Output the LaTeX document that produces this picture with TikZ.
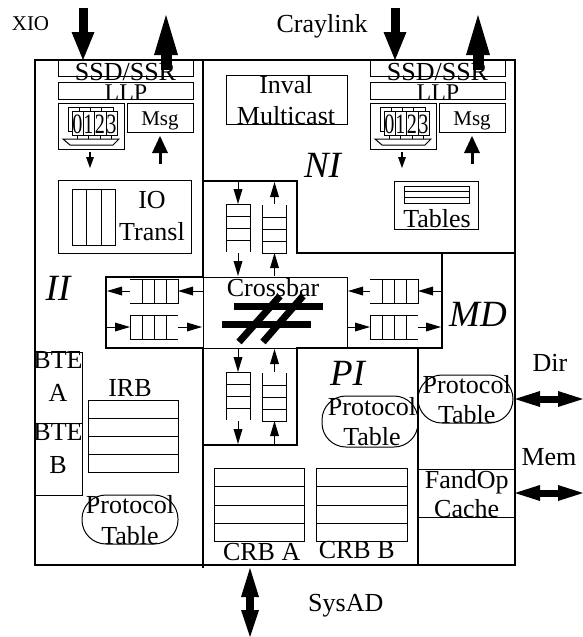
\documentclass[tikz,border=0pt]{standalone}
\usepackage{fontspec}
\setmainfont{Liberation Serif}
\usetikzlibrary{arrows.meta}
\begin{document}
\begin{tikzpicture}[x=1pt,y=-1pt,
  thk/.style={line width=2.2pt},
  thn/.style={line width=1pt},
  lbl/.style={anchor=base,inner sep=0pt,font=\fontsize{26}{31}\selectfont},
  mid/.style={anchor=base,inner sep=0pt,font=\fontsize{24}{28}\selectfont},
  sml/.style={anchor=base,inner sep=0pt,font=\fontsize{21}{24}\selectfont},
  ital/.style={anchor=base,inner sep=0pt,font=\fontsize{37}{40}\selectfont\itshape},
  digit/.style={anchor=base,inner sep=0pt,font=\fontsize{28}{28}\selectfont,xscale=0.72},
  qarr/.style={line width=1pt,-{Triangle[length=15pt,width=9pt,line width=0pt]}},
  tinyarr/.style={line width=1.5pt,-{Triangle[length=11pt,width=8pt,line width=0pt]}},
  msgarr/.style={line width=3pt,-{Triangle[length=17pt,width=16pt,line width=0pt]}},
  bigdown/.style={line width=9pt,-{Triangle[length=28pt,width=23pt,line width=0pt]}},
  bigup/.style={line width=11pt,-{Triangle[length=40pt,width=24pt,line width=0pt]}},
  dbl/.style={line width=7pt,{Triangle[length=25pt,width=16pt,line width=0pt]}-{Triangle[length=25pt,width=16pt,line width=0pt]}},
  dblv/.style={line width=8pt,{Triangle[length=29pt,width=18pt,line width=0pt]}-{Triangle[length=27pt,width=18pt,line width=0pt]}},
  ptab/.style={thn,rounded corners=24pt},
  hq/.pic={
    \draw[thn] (48,-12) -- (0,-12) -- (0,12) -- (48,12);
    \foreach \i in {12,24,36} \draw[thn] (\i,-12) -- (\i,12);
  },
  buf/.pic={
    \draw[thn] (0,0) rectangle (66,46);
    \draw[thn] (10,4) rectangle (55,28);
    \foreach \i in {21,32,43} \draw[thn] (\i,4) -- (\i,8);
    \draw[thn,fill=white] (14,8) rectangle (59,32);
    \foreach \i in {25,36,48} \draw[thn] (\i,8) -- (\i,32);
    \foreach \i/\d in {19.5/0,30.5/1,42/2,53.5/3} {
      \node[digit] (dig\d) at (\i,30) {\d};
      \draw[thn] (\i,32) -- (\i,36);
    }
    \draw[thn] (5,36) -- (61,36) -- (55,42) -- (12,42) -- cycle;
  },
  port/.pic={
    \draw[thn] (58,60) rectangle (193,76);
    \draw[thn] (58,82) rectangle (193,99);
    \pic at (58,103) {buf};
    \draw[thn] (127,103) rectangle (193,132);
    \coordinate (dnA) at (83,8);  \coordinate (dnB) at (83,60);
    \coordinate (upA) at (166,70); \coordinate (upB) at (166,15);
    \draw[bigdown] (dnA) -- (dnB);
    \draw[bigup] (upA) -- (upB);
    \node[lbl] (ssd) at (125.5,80) {SSD/SSR};
    \node[mid] (llp) at (126,100) {LLP};
    \node[sml] (msg) at (160,125) {Msg};
    \coordinate (sdA) at (90,152); \coordinate (sdB) at (90,168);
    \coordinate (suA) at (160,164); \coordinate (suB) at (160,136);
    \draw[tinyarr] (sdA) -- (sdB);
    \draw[msgarr] (suA) -- (suB);
  }
]
\useasboundingbox (0,0) rectangle (583,637);
\fill[white] (0,0) rectangle (583,637);

% regions
\draw[thk] (35,60) rectangle (515,565);
\draw[thk] (203,60) -- (203,181);
\draw[thk] (203,445) -- (203,568);
\draw[thk] (203,181) -- (297,181) -- (297,253) -- (442,253) -- (442,348) -- (297,348)
  -- (297,445) -- (203,445) -- (203,348) -- (106,348) -- (106,277) -- (203,277) -- cycle;
\draw[thk] (297,253) -- (515,253);
\draw[thk] (418,348) -- (418,565);
\draw[thn] (203,277) rectangle (347,348);

% ports
\pic (pl) at (0,0) {port};
\pic (pr) at (312,0) {port};
\node[sml] (xio) at (30.5,30) {XIO};
\node[lbl] (cray) at (322,32) {Craylink};

% NI
\draw[thn] (226,75) rectangle (347,124);
\node[lbl] (inv1) at (286,93) {Inval};
\node[lbl] (inv2) at (286,124) {Multicast};
\node[ital] (ni) at (322.5,177) {NI};
\draw[thn] (394,181) rectangle (478,229);
\draw[thn] (404,186) rectangle (469,203);
\draw[thn] (404,191.7) -- (469,191.7) (404,197.3) -- (469,197.3);
\node[lbl] (tab) at (437,227) {Tables};

% II
\draw[thn] (58,180) rectangle (191,253);
\draw[thn] (72,189) rectangle (115,245);
\draw[thn] (86.5,189) -- (86.5,245) (101,189) -- (101,245);
\node[lbl] (io1) at (152,208) {IO};
\node[lbl] (io2) at (152,240.7) {Transl};
\node[ital] (ii) at (58,300) {II};
\draw[thn] (35,352) rectangle (82,423);
\draw[thn] (35,423) rectangle (82,495);
\node[lbl] (bte1) at (58,368) {BTE};
\node[lbl] (btea) at (58,401.7) {A};
\node[lbl] (bte2) at (58,440) {BTE};
\node[lbl] (bteb) at (58,473) {B};
\node[lbl] (irb) at (130,396) {IRB};
\draw[thn] (88,400) rectangle (178,472);
\foreach \y in {418,436,454} \draw[thn] (88,\y) -- (178,\y);
\draw[ptab] (82,495) rectangle (178,544);
\node[lbl] (ip1) at (130,513) {Protocol};
\node[lbl] (ip2) at (130,544) {Table};

% queues
\pic[rotate=180] at (178,291) {hq};
\pic at (130,327) {hq};
\pic[rotate=180] at (418,291) {hq};
\pic at (370,327) {hq};
\pic[rotate=-90] at (238,204) {hq};
\pic[rotate=90] at (274.5,253) {hq};
\pic[rotate=-90] at (238,372) {hq};
\pic[rotate=90] at (274.5,421) {hq};

% queue arrows
\foreach \a/\b in {203/178,130/107,418/441,348/370}{}
\draw[qarr] (203,291) -- (178,291);
\draw[qarr] (130,291) -- (107,291);
\draw[qarr] (107,327) -- (130,327);
\draw[qarr] (178,327) -- (202,327);
\draw[qarr] (441,291) -- (418,291);
\draw[qarr] (370,291) -- (348,291);
\draw[qarr] (348,327) -- (370,327);
\draw[qarr] (418,327) -- (441,327);
\draw[qarr] (238,182) -- (238,204);
\draw[qarr] (238,253) -- (238,276);
\draw[qarr] (274.5,276) -- (274.5,253);
\draw[qarr] (274.5,204) -- (274.5,182);
\draw[qarr] (238,349) -- (238,372);
\draw[qarr] (238,421) -- (238,444);
\draw[qarr] (274.5,444) -- (274.5,421);
\draw[qarr] (274.5,372) -- (274.5,349);

% crossbar
\node[lbl] (xbar) at (273,296.7) {Crossbar};
\draw[line width=7pt] (234,306) -- (323,306);
\draw[line width=7pt] (222,324) -- (311,324);
\draw[line width=7pt] (239,342) -- (280,296);
\draw[line width=7pt] (263,342) -- (303,296);

% PI
\node[ital] (pi) at (347.5,385) {PI};
\draw[ptab] (322,396) rectangle (418,447);
\node[lbl] (pp1) at (372,415) {Protocol};
\node[lbl] (pp2) at (372,445) {Table};
\draw[thn] (214,468) rectangle (304,541);
\draw[thn] (316,468) rectangle (407,541);
\foreach \y in {486.5,505,523} {
  \draw[thn] (214,\y) -- (304,\y);
  \draw[thn] (316,\y) -- (407,\y);
}
\node[lbl] (crba) at (261.7,560) {CRB A};
\node[lbl] (crbb) at (356.7,558) {CRB B};
\coordinate (sysA) at (250,568); \coordinate (sysB) at (250,637);
\draw[dblv] (sysA) -- (sysB);
\node[lbl] (sysad) at (345.8,611.7) {SysAD};

% MD
\node[ital] (md) at (478,326) {MD};
\draw[ptab] (418,375) rectangle (513,423);
\node[lbl] (mp1) at (466.7,393) {Protocol};
\node[lbl] (mp2) at (466.7,423) {Table};
\draw[thn] (418,469) -- (515,469) (418,517) -- (515,517);
\node[lbl] (fo1) at (466.7,488) {FandOp};
\node[lbl] (fo2) at (466.7,517) {Cache};
\node[lbl] (dir) at (550,371.7) {Dir};
\node[lbl] (mem) at (549,465) {Mem};
\coordinate (dirA) at (515,399); \coordinate (dirB) at (583,399);
\coordinate (memA) at (515,493); \coordinate (memB) at (583,493);
\draw[dbl] (dirA) -- (dirB);
\draw[dbl] (memA) -- (memB);
\end{tikzpicture}
\end{document}
